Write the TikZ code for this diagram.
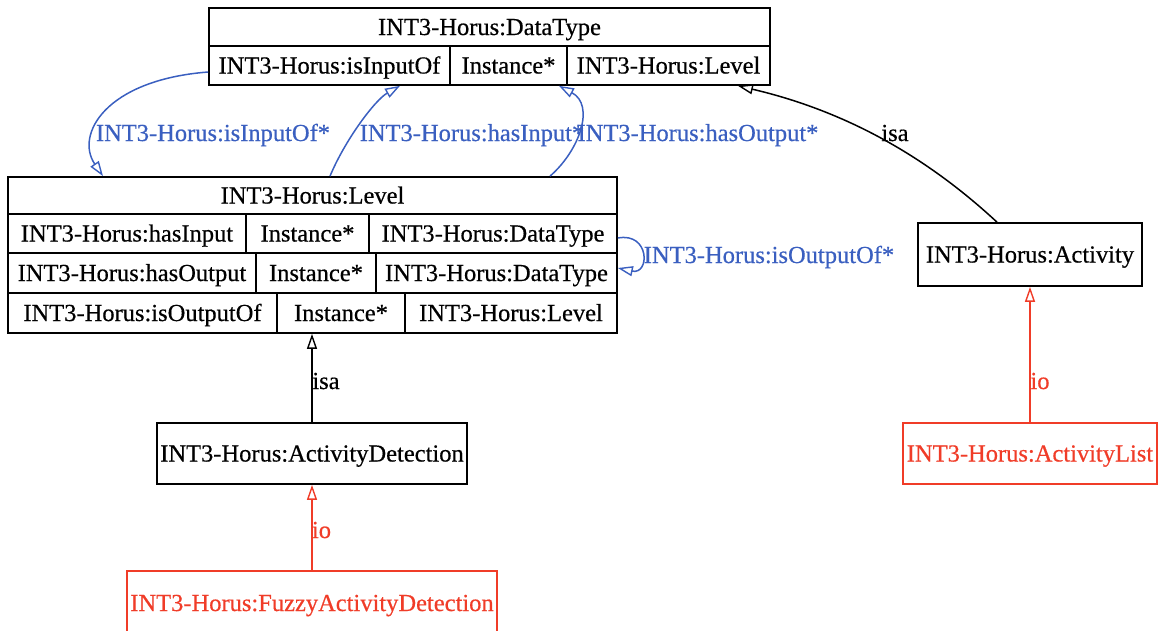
\documentclass[tikz,border=0pt]{standalone}
\usepackage{fontspec}
\setmainfont{Liberation Serif}[UprightFeatures={FakeBold=0.5}]
\usetikzlibrary{arrows.meta,calc}
\definecolor{edgeblue}{RGB}{58,95,192}
\definecolor{edgered}{RGB}{240,60,40}
\begin{document}
\begin{tikzpicture}[x=1pt,y=-1pt,
  every node/.style={font=\fontsize{24.5}{28}\selectfont, inner sep=0pt, text height=16, text depth=0},
  cell/.style={draw=black, line width=1.7pt, rectangle, text=black},
  redcell/.style={draw=edgered, line width=1.5pt, rectangle, text=edgered},
  opentip/.style={-{Triangle[open,length=15pt,width=10pt,line width=1.4pt]}},
  isaedge/.style={opentip, draw=black, line width=1.5pt},
  ioedge/.style={opentip, draw=edgered, line width=1.5pt},
  propedge/.style={opentip, draw=edgeblue, line width=1.5pt},
  blabel/.style={text=edgeblue},
  klabel/.style={text=black},
  rlabel/.style={text=edgered}]
\useasboundingbox (0,0) rectangle (1161,630);
\clip (0,0) rectangle (1161,630);

% DataType record
\node[cell, minimum width=561, minimum height=38] (dt) at (489.5,27) {INT3-Horus:DataType};
\node[cell, minimum width=241, minimum height=39] (dt1) at (329.5,65.5) {INT3-Horus:isInputOf};
\node[cell, minimum width=117, minimum height=39] (dt2) at (508.5,65.5) {Instance*};
\node[cell, minimum width=203, minimum height=39] (dt3) at (668.5,65.5) {INT3-Horus:Level};

% Level record
\node[cell, minimum width=609, minimum height=37] (lh) at (312.5,195.5) {INT3-Horus:Level};
\node[cell, minimum width=238, minimum height=39] (l1a) at (127,233.5) {INT3-Horus:hasInput};
\node[cell, minimum width=123, minimum height=39] (l1b) at (307.5,233.5) {Instance*};
\node[cell, minimum width=248, minimum height=39] (l1c) at (493,233.5) {INT3-Horus:DataType};
\node[cell, minimum width=248, minimum height=40] (l2a) at (132,273) {INT3-Horus:hasOutput};
\node[cell, minimum width=120, minimum height=40] (l2b) at (316,273) {Instance*};
\node[cell, minimum width=241, minimum height=40] (l2c) at (496.5,273) {INT3-Horus:DataType};
\node[cell, minimum width=269, minimum height=40] (l3a) at (142.5,313) {INT3-Horus:isOutputOf};
\node[cell, minimum width=128, minimum height=40] (l3b) at (341,313) {Instance*};
\node[cell, minimum width=212, minimum height=40] (l3c) at (511,313) {INT3-Horus:Level};

% Other classes
\node[cell, minimum width=224, minimum height=63] (act) at (1030,254.5) {INT3-Horus:Activity};
\node[cell, minimum width=310, minimum height=61] (ad) at (312,453.5) {INT3-Horus:ActivityDetection};
\node[redcell, minimum width=254, minimum height=61] (al) at (1030,453.5) {INT3-Horus:ActivityList};
\node[redcell, minimum width=370, minimum height=64] (fz) at (312,603) {INT3-Horus:FuzzyActivityDetection};

% named end points
\coordinate (inofS) at ($(dt1.west)+(0,6.5)$);
\coordinate (inofE) at ($(lh.north)+(-209.5,0)$);
\coordinate (hinS) at ($(lh.north)+(17.5,0)$);
\coordinate (hinE) at ($(dt1.south)+(70.5,0)$);
\coordinate (houtS) at ($(lh.north)+(237.5,0)$);
\coordinate (houtE) at ($(dt2.south)+(50.5,0)$);
\coordinate (ooS) at ($(l1c.east)+(0,4.5)$);
\coordinate (ooE) at ($(l2c.east)+(0,-5)$);
\coordinate (isaS) at ($(act.north)+(-33,0)$);
\coordinate (isaE) at ($(dt3.south)+(69.5,0)$);

% connectors
\draw[isaedge] (isaS) .. controls (930,160) and (850,112) .. (isaE);
\draw[isaedge] (ad.north) -- (ad.north |- l3b.south);
\draw[ioedge] (fz.north) -- (ad.south);
\draw[ioedge] (al.north) -- (act.south);
\draw[propedge] (inofS) .. controls (105,80) and (75,135) .. (inofE);
\draw[propedge] (hinS) .. controls (345,140) and (375,100) .. (hinE);
\draw[propedge] (houtS) .. controls (580,150) and (595,105) .. (houtE);
\draw[propedge] (ooS) .. controls (650,232) and (650,275) .. (ooE);

% labels
\node[blabel] (lbinof) at (213,133) {INT3-Horus:isInputOf*};
\node[blabel] (lbhin) at (472,133) {INT3-Horus:hasInput*};
\node[blabel] (lbhout) at (698,133) {INT3-Horus:hasOutput*};
\node[blabel] (lboo) at (769,255) {INT3-Horus:isOutputOf*};
\node[klabel] (lbisa1) at (895,133) {isa};
\node[klabel] (lbisa2) at (326,381) {isa};
\node[rlabel] (lbio1) at (321.5,530) {io};
\node[rlabel] (lbio2) at (1040,381) {io};
\end{tikzpicture}
\end{document}
